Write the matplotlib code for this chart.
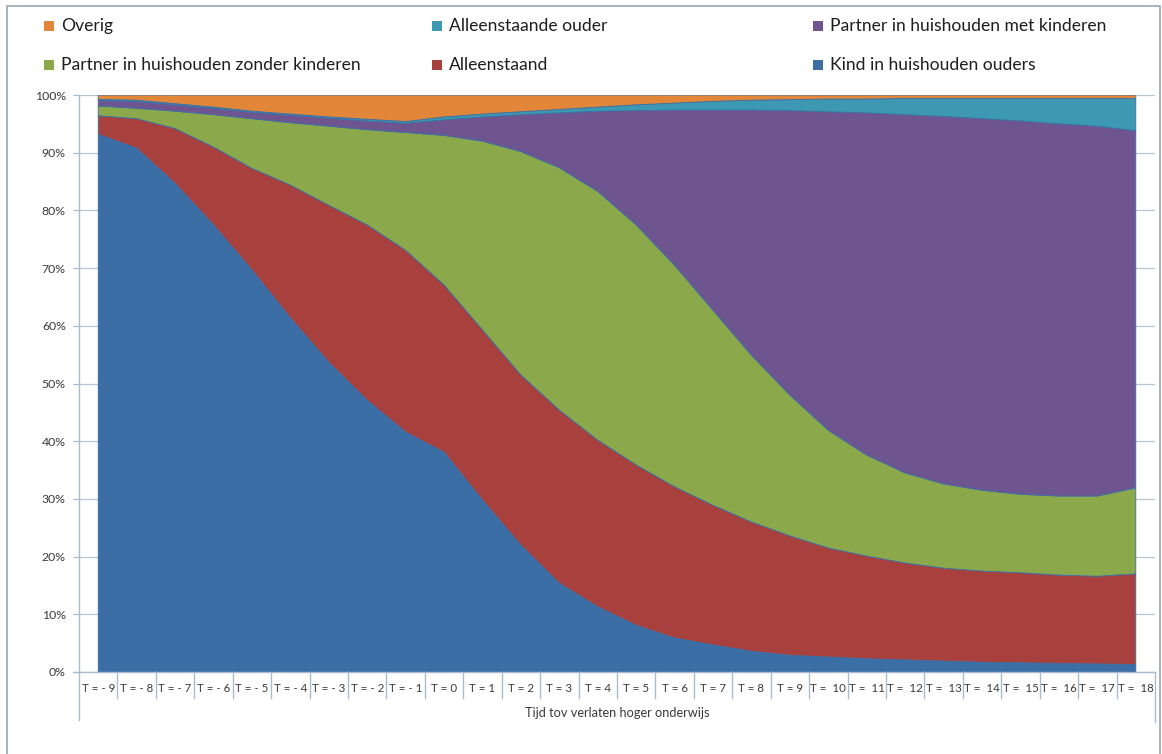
import numpy as np
import matplotlib
matplotlib.use("Agg")
import matplotlib.pyplot as plt
from matplotlib.patches import Rectangle
from matplotlib.transforms import blended_transform_factory

# ---------------- data ----------------
categories = ["T = - 9", "T = - 8", "T = - 7", "T = - 6", "T = - 5", "T = - 4", "T = - 3",
              "T = - 2", "T = - 1", "T = 0", "T = 1", "T = 2", "T = 3", "T = 4", "T = 5",
              "T = 6", "T = 7", "T = 8", "T = 9", "T =  10", "T =  11", "T =  12", "T =  13",
              "T =  14", "T =  15", "T =  16", "T =  17", "T =  18"]

kind_ouders = [93.2, 90.8, 84.7, 77.5, 69.7, 61.4, 53.7, 47.1, 41.6, 38.1, 29.8, 22.0, 15.4, 11.3,
               8.1, 5.9, 4.7, 3.6, 2.9, 2.6, 2.3, 2.1, 1.9, 1.7, 1.6, 1.5, 1.4, 1.3]
alleenstaand = [3.2, 5.1, 9.5, 13.5, 17.6, 23.0, 27.2, 30.4, 31.5, 29.0, 29.5, 29.5, 30.0, 28.9,
                27.8, 26.2, 24.2, 22.4, 20.7, 18.9, 17.8, 16.8, 16.1, 15.8, 15.6, 15.3, 15.2, 15.7]
partner_zonder = [1.7, 1.8, 3.0, 5.6, 8.6, 10.8, 13.7, 16.5, 20.4, 25.9, 32.7, 38.7, 42.0, 43.1,
                  41.6, 38.4, 33.8, 28.9, 24.4, 20.4, 17.5, 15.6, 14.6, 14.0, 13.6, 13.7, 13.9, 14.9]
partner_met = [0.95, 1.2, 1.1, 1.1, 1.1, 1.3, 1.4, 1.5, 1.6, 2.7, 4.2, 6.4, 9.5, 13.9,
               19.8, 26.9, 34.7, 42.5, 49.3, 55.2, 59.3, 62.1, 63.7, 64.4, 64.7, 64.5, 64.1, 61.9]
alleenstaande_ouder = [0.2, 0.2, 0.2, 0.2, 0.2, 0.2, 0.2, 0.3, 0.3, 0.5, 0.5, 0.5, 0.6, 0.7,
                       1.0, 1.2, 1.5, 1.7, 1.9, 2.2, 2.4, 2.8, 3.1, 3.5, 3.9, 4.4, 4.8, 5.6]
overig = [0.75, 0.9, 1.5, 2.1, 2.8, 3.3, 3.8, 4.2, 4.6, 3.8, 3.3, 2.9, 2.5, 2.1,
          1.7, 1.4, 1.1, 0.9, 0.8, 0.7, 0.7, 0.6, 0.6, 0.6, 0.6, 0.6, 0.6, 0.6]

series_names = ["Kind in huishouden ouders", "Alleenstaand", "Partner in huishouden zonder kinderen",
                "Partner in huishouden met kinderen", "Alleenstaande ouder", "Overig"]
series_colors = ["#3B6EA5", "#A8403D", "#8BA84A", "#6F5590", "#3D99B1", "#E2873A"]
y_ticklabels = ["0%", "10%", "20%", "30%", "40%", "50%", "60%", "70%", "80%", "90%", "100%"]
x_title = "Tijd tov verlaten hoger onderwijs"

# ---------------- figure ----------------
W, H = 1162, 754
plt.rcParams['font.family'] = ['Lato', 'DejaVu Sans']
fig = plt.figure(figsize=(W / 100, H / 100), dpi=100)

def fx(x):
    return x / W

def fy(y):
    return 1 - y / H

L, R, T, B = 79, 1155, 95, 672
ax = fig.add_axes([fx(L), fy(B), fx(R) - fx(L), fy(T) - fy(B)])

data = np.array([kind_ouders, alleenstaand, partner_zonder, partner_met,
                 alleenstaande_ouder, overig], dtype=float)
data = data / data.sum(axis=0) * 100.0
x = np.arange(len(categories))

ax.stackplot(x, data, colors=series_colors, linewidth=0.6, edgecolors=series_colors,
             zorder=2)

ax.set_xlim(-0.5, len(categories) - 0.5)
ax.set_ylim(0, 100)

axis_col = "#A9BBCD"
grid_col = "#B8C6D4"
txt_col = "#3A3A3A"

ax.set_yticks(np.arange(0, 101, 10))
ax.set_yticklabels(y_ticklabels, fontsize=8.8, color=txt_col)
ax.tick_params(axis='y', length=4.5, width=0.9, color=axis_col, pad=5)
ax.yaxis.grid(True, color=grid_col, linewidth=0.9, zorder=0)
ax.set_axisbelow(True)
ax.set_xticks([])
for s in ["top", "right", "bottom", "left"]:
    ax.spines[s].set_visible(False)

# axis lines (y axis extends down through category area)
fig.add_artist(plt.Line2D([fx(L), fx(L)], [fy(T), fy(720)], color=axis_col, lw=1.0))
fig.add_artist(plt.Line2D([fx(R), fx(R)], [fy(B), fy(722)], color=axis_col, lw=1.0))
fig.add_artist(plt.Line2D([fx(73), fx(R)], [fy(B), fy(B)], color=axis_col, lw=1.0))

bt = blended_transform_factory(ax.transData, fig.transFigure)
for i in range(1, len(categories)):
    ax.plot([i - 0.5, i - 0.5], [fy(B), fy(698)], color=axis_col, lw=1.0,
            transform=bt, clip_on=False)
for i, lab in enumerate(categories):
    ax.text(i, fy(689), lab, transform=bt, ha='center', va='center',
            fontsize=8.3, color=txt_col)

fig.text(fx((L + R) / 2), fy(713), x_title, ha='center', va='center',
         fontsize=9.2, color=txt_col)

# legend (3 columns x 2 rows)
legend_items = [
    (5, 44, 26), (4, 432, 26), (3, 813, 26),
    (2, 44, 65), (1, 432, 65), (0, 813, 65),
]
for idx, lx, ly in legend_items:
    fig.add_artist(Rectangle((fx(lx), fy(ly + 5)), 10 / W, 10 / H,
                             transform=fig.transFigure, facecolor=series_colors[idx],
                             edgecolor='none'))
    fig.text(fx(lx + 17), fy(ly), series_names[idx], ha='left', va='center',
             fontsize=12.6, color="#1E1E1E")

# outer chart frame
fig.add_artist(Rectangle((fx(7), fy(760)), (1160 - 7) / W, (760 - 6) / H,
                         transform=fig.transFigure, facecolor='none',
                         edgecolor="#98A6B4", lw=1.2))

fig.savefig("out.png", dpi=100)
